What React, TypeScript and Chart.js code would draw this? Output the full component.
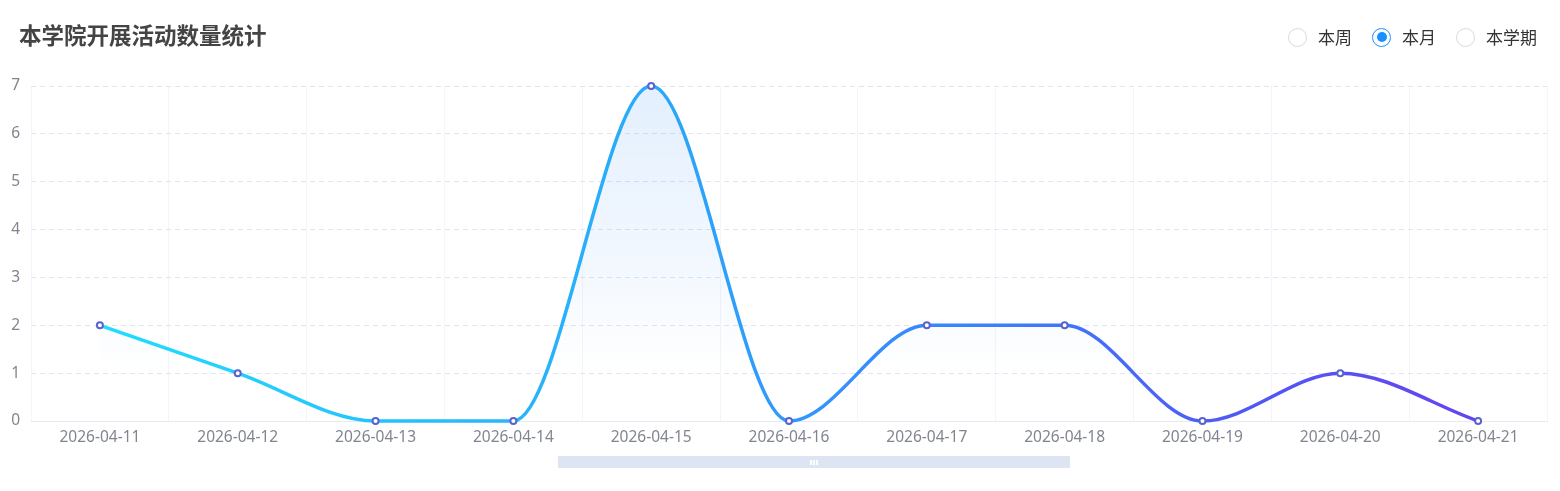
import React, { useEffect, useRef } from "react";
import { Chart, registerables } from "chart.js";

Chart.register(...registerables);

const categories = [
  "2026-04-11", "2026-04-12", "2026-04-13", "2026-04-14", "2026-04-15", "2026-04-16",
  "2026-04-17", "2026-04-18", "2026-04-19", "2026-04-20", "2026-04-21",
];
const activityCounts = [2, 1, 0, 0, 7, 0, 2, 2, 0, 1, 0];
const yTicks = [0, 1, 2, 3, 4, 5, 6, 7];
const titleText = "本学院开展活动数量统计";
const periodOptions = ["本周", "本月", "本学期"];
const selectedPeriod = "本月";

const FONT = '"Noto Sans", "Noto Sans CJK SC", sans-serif';
const CJK = '"Noto Sans CJK SC", sans-serif';

export default function App() {
  const canvasRef = useRef<HTMLCanvasElement | null>(null);

  useEffect(() => {
    document.body.style.margin = "0";
    const canvas = canvasRef.current;
    if (!canvas) return;
    const chart = new Chart(canvas, {
      type: "line",
      data: {
        labels: categories,
        datasets: [
          {
            data: activityCounts,
            clip: false,
            borderWidth: 3.5,
            cubicInterpolationMode: "monotone",
            borderColor: (ctx: any) => {
              const area = ctx.chart.chartArea;
              if (!area) return "#2a9bff";
              const g = ctx.chart.ctx.createLinearGradient(area.left, 0, area.right, 0);
              g.addColorStop(0, "#1ee4ff");
              g.addColorStop(0.4, "#2aaaf8");
              g.addColorStop(0.62, "#3a82ff");
              g.addColorStop(0.8, "#5058f4");
              g.addColorStop(1, "#6a3ef0");
              return g;
            },
            fill: "origin",
            backgroundColor: (ctx: any) => {
              const area = ctx.chart.chartArea;
              if (!area) return "rgba(60,140,255,0.1)";
              const g = ctx.chart.ctx.createLinearGradient(0, area.top, 0, area.bottom);
              g.addColorStop(0, "rgba(60,145,245,0.14)");
              g.addColorStop(0.5, "rgba(60,145,245,0.07)");
              g.addColorStop(0.85, "rgba(60,145,245,0.0)");
              g.addColorStop(1, "rgba(60,145,245,0)");
              return g;
            },
            pointRadius: 3,
            pointBorderWidth: 2,
            pointBorderColor: "#5a62d0",
            pointBackgroundColor: "#ffffff",
          } as any,
        ],
      },
      options: {
        animation: false,
        responsive: false,
        maintainAspectRatio: false,
        layout: { padding: { left: 0, right: 13, top: 86, bottom: 40 } },
        plugins: { legend: { display: false }, tooltip: { enabled: false }, title: { display: false } },
        scales: {
          x: {
            offset: true,
            grid: { offset: true, color: "#f3f5fa", drawTicks: false, lineWidth: 1 },
            border: { display: true, color: "#e6eaf3" },
            ticks: { color: "#80858f", font: { family: FONT, size: 15.5 }, padding: 7, maxRotation: 0, autoSkip: false },
            afterFit: (s: any) => { s.height = 30; },
          },
          y: {
            min: 0,
            max: 7,
            afterBuildTicks: (s: any) => { s.ticks = yTicks.map((v) => ({ value: v })); },
            grid: { color: "#e0e6f1", drawTicks: false },
            border: { display: false, dash: [5, 4] },
            ticks: { color: "#80858f", font: { family: FONT, size: 15.5 }, padding: 11 },
            afterFit: (s: any) => { s.width = 31; },
          },
        },
      },
    });
    return () => chart.destroy();
  }, []);

  const radio = (label: string, i: number) => {
    const sel = label === selectedPeriod;
    return (
      <div key={label} style={{ display: "flex", alignItems: "center", marginRight: i < periodOptions.length - 1 ? 20 : 0 }}>
        <div
          style={{
            width: 19, height: 19, borderRadius: "50%", boxSizing: "border-box",
            border: sel ? "1px solid #1890ff" : "1px solid #d9d9d9",
            display: "flex", alignItems: "center", justifyContent: "center", marginRight: 11,
            background: "#fff",
          }}
        >
          {sel && <div style={{ width: 10, height: 10, borderRadius: "50%", background: "#1890ff" }} />}
        </div>
        <span style={{ fontSize: 17, color: "#333", fontFamily: CJK, lineHeight: "20px" }}>{label}</span>
      </div>
    );
  };

  return (
    <div style={{ position: "fixed", left: 0, top: 0, width: 1560, height: 491, background: "#fff", overflow: "hidden" }}>
      <canvas ref={canvasRef} width={1560} height={491} style={{ position: "absolute", left: 0, top: 0, width: 1560, height: 491 }} />
      <div style={{ position: "absolute", left: 19, top: 18, fontSize: 22.5, fontWeight: 700, color: "#444", fontFamily: CJK, lineHeight: "32px" }}>
        {titleText}
      </div>
      <div style={{ position: "absolute", left: 1288, top: 27, display: "flex", alignItems: "center" }}>
        {periodOptions.map(radio)}
      </div>
      <div style={{ position: "absolute", left: 558, top: 456, width: 512, height: 12, background: "#dde4f2", display: "flex", alignItems: "center", justifyContent: "center" }}>
        <div style={{ display: "flex", gap: 1.5 }}>
          <div style={{ width: 1.5, height: 5, background: "#fff" }} />
          <div style={{ width: 1.5, height: 5, background: "#fff" }} />
          <div style={{ width: 1.5, height: 5, background: "#fff" }} />
        </div>
      </div>
    </div>
  );
}
